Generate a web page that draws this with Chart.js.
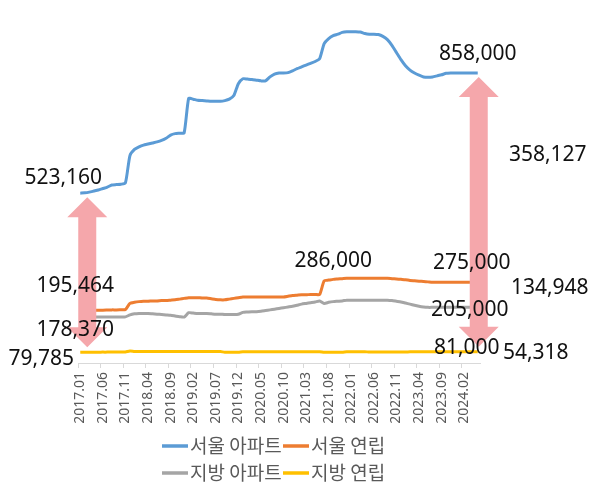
<!DOCTYPE html>
<html>
<head>
<meta charset="utf-8">
<script src="https://cdn.jsdelivr.net/npm/chart.js@4.4.1/dist/chart.umd.min.js"></script>
<style>
  html, body { margin: 0; padding: 0; background: #fff; }
  #wrap { width: 601px; height: 500px; }
</style>
</head>
<body>
<div id="wrap"><canvas id="grafico"></canvas></div>
<script>
// 월별 데이터 (2017.01 ~ 2024.05)
const months = [
  '2017.01','2017.02','2017.03','2017.04','2017.05','2017.06','2017.07','2017.08','2017.09','2017.10','2017.11','2017.12',
  '2018.01','2018.02','2018.03','2018.04','2018.05','2018.06','2018.07','2018.08','2018.09','2018.10','2018.11','2018.12',
  '2019.01','2019.02','2019.03','2019.04','2019.05','2019.06','2019.07','2019.08','2019.09','2019.10','2019.11','2019.12',
  '2020.01','2020.02','2020.03','2020.04','2020.05','2020.06','2020.07','2020.08','2020.09','2020.10','2020.11','2020.12',
  '2021.01','2021.02','2021.03','2021.04','2021.05','2021.06','2021.07','2021.08','2021.09','2021.10','2021.11','2021.12',
  '2022.01','2022.02','2022.03','2022.04','2022.05','2022.06','2022.07','2022.08','2022.09','2022.10','2022.11','2022.12',
  '2023.01','2023.02','2023.03','2023.04','2023.05','2023.06','2023.07','2023.08','2023.09','2023.10','2023.11','2023.12',
  '2024.01','2024.02','2024.03','2024.04','2024.05'
];

const seoulApt = [
  523160, 524000, 526000, 529000, 532000, 536000, 540000, 546000, 547000, 548000, 552000, 628000,
  645000, 652000, 657000, 660000, 663000, 666000, 670000, 676000, 685000, 689000, 690000, 691000,
  787000, 785000, 782000, 781000, 780000, 779000, 779000, 779000, 781000, 785000, 795000, 828000,
  842000, 841000, 840000, 838000, 836000, 836000, 847000, 855000, 858000, 858000, 859000, 864000,
  870000, 875000, 880000, 885000, 890000, 898000, 940000, 954000, 962000, 966000, 971000, 973000,
  973000, 973000, 972000, 968000, 966000, 966000, 965000, 960000, 951000, 935000, 915000, 895000,
  878000, 866000, 858000, 852000, 847000, 846000, 847000, 850000, 853000, 857000, 858000, 858000,
  858000, 858000, 858000, 858000, 858000
];

const seoulVilla = [
  195464, 196000, 196000, 197000, 197000, 197000, 197500, 198000, 198000, 198500, 199000, 216000,
  219000, 221000, 222000, 222000, 223000, 223000, 224000, 224000, 225000, 226000, 228000, 230000,
  232000, 232000, 232000, 231000, 231000, 229000, 227000, 226000, 226000, 228000, 230000, 232000,
  234000, 234000, 234000, 234000, 234000, 234000, 234000, 234000, 234000, 234000, 236000, 238000,
  239000, 240000, 240000, 241000, 241000, 241000, 279000, 281000, 283000, 284000, 285000, 286000,
  286000, 286000, 286000, 286000, 286000, 286000, 286000, 286000, 286000, 285000, 284000, 283000,
  282000, 280000, 279000, 278000, 277000, 276000, 275000, 275000, 275000, 275000, 275000, 275000,
  275000, 275000, 275000, 275000, 275000
];

const localApt = [
  178370, 178000, 178000, 178000, 178000, 178000, 178000, 178000, 178000, 178000, 178500, 184000,
  187000, 188000, 188000, 188000, 187000, 186000, 185000, 184000, 183000, 181000, 179000, 178000,
  190000, 189000, 188000, 188000, 188000, 187000, 186000, 186000, 185000, 185000, 185000, 186000,
  191000, 192000, 193000, 193000, 194000, 196000, 198000, 200000, 202000, 204000, 206000, 208000,
  211000, 214000, 216000, 218000, 220000, 223000, 216000, 219000, 221000, 222000, 223000, 225000,
  225000, 225000, 225000, 225000, 225000, 225000, 225000, 225000, 225000, 224000, 222000, 220000,
  217000, 214000, 211000, 208000, 206000, 205000, 205000, 205000, 205000, 205000, 205000, 205000,
  205000, 205000, 205000, 205000, 205000
];

const localVilla = [
  79785, 80000, 80000, 80000, 80200, 80300, 80300, 80500, 80500, 80500, 80600, 83500,
  82000, 82000, 82000, 82000, 82000, 82000, 82000, 82000, 82000, 82000, 82000, 82000,
  82000, 82000, 82000, 82000, 82000, 82000, 82000, 82000, 80000, 80000, 80000, 80000,
  81500, 81500, 81500, 81500, 81500, 81500, 81500, 81500, 81500, 81500, 81500, 81500,
  81500, 81500, 81500, 81500, 81500, 81500, 80000, 80000, 80000, 80000, 80000, 81500,
  81500, 81500, 81500, 81500, 80500, 80500, 80500, 80500, 80500, 80500, 80500, 80500,
  80500, 81000, 81000, 81000, 81000, 81000, 81000, 81000, 81000, 81000, 81000, 81000,
  81000, 81000, 81000, 81000, 81000
];

const seriesNames = ['서울 아파트', '서울 연립', '지방 아파트', '지방 연립'];
const seriesColors = ['#5B9BD5', '#ED7D31', '#A5A5A5', '#FFC000'];

// 주석 텍스트: [텍스트, 기준 시리즈, 기준 인덱스, dx, dy]
const callouts = [
  ['523,160', seoulApt, 0, -17, -15],
  ['858,000', seoulApt, 88, 0, -19],
  ['358,127', seoulApt, 88, 70, 82],
  ['195,464', seoulVilla, 0, -5, -25],
  ['178,370', localApt, 0, -5, 13],
  ['79,785', localVilla, 0, -39, 7],
  ['286,000', seoulVilla, 58, -9, -18],
  ['275,000', seoulVilla, 88, -6, -19],
  ['134,948', seoulVilla, 88, 72, 6],
  ['205,000', localApt, 88, -8, 3],
  ['81,000', localVilla, 88, -11, -4],
  ['54,318', localVilla, 88, 58, 1]
];

// 양방향 화살표: [인덱스, dx]
const arrows = [[0, 7], [88, 1]];

function drawDoubleArrow(ctx, cx, top, bottom) {
  const shaft = 9, head = 20, headLen = 20;
  ctx.beginPath();
  ctx.moveTo(cx, top);
  ctx.lineTo(cx + head, top + headLen);
  ctx.lineTo(cx + shaft, top + headLen);
  ctx.lineTo(cx + shaft, bottom - headLen);
  ctx.lineTo(cx + head, bottom - headLen);
  ctx.lineTo(cx, bottom);
  ctx.lineTo(cx - head, bottom - headLen);
  ctx.lineTo(cx - shaft, bottom - headLen);
  ctx.lineTo(cx - shaft, top + headLen);
  ctx.lineTo(cx - head, top + headLen);
  ctx.closePath();
  ctx.fill();
}

const annotations = {
  id: 'annotations',
  afterDatasetsDraw(chart) {
    const { ctx, scales: { x, y } } = chart;
    ctx.save();
    ctx.fillStyle = '#F5A7AB';
    arrows.forEach(([i, dx]) => {
      drawDoubleArrow(ctx, x.getPixelForValue(i) + dx,
        y.getPixelForValue(seoulApt[i]) + 4, y.getPixelForValue(localVilla[i]) - 5);
    });
    ctx.fillStyle = '#111';
    ctx.font = '21px "Noto Sans"';
    ctx.textAlign = 'center';
    ctx.textBaseline = 'middle';
    callouts.forEach(([txt, arr, i, dx, dy]) => {
      ctx.fillText(txt, x.getPixelForValue(i) + dx, y.getPixelForValue(arr[i]) + dy);
    });
    ctx.restore();
  },
  afterDraw(chart) {
    // 범례 (2줄)
    const { ctx } = chart;
    ctx.save();
    ctx.font = '19px "Noto Sans CJK KR"';
    ctx.textBaseline = 'middle';
    ctx.textAlign = 'left';
    const cols = [162, 283], rows = [446, 473];
    seriesNames.forEach((name, k) => {
      const lx = cols[k % 2], ly = rows[Math.floor(k / 2)];
      ctx.strokeStyle = seriesColors[k];
      ctx.lineWidth = 3.5;
      ctx.beginPath();
      ctx.moveTo(lx, ly);
      ctx.lineTo(lx + 26, ly);
      ctx.stroke();
      ctx.fillStyle = '#595959';
      ctx.fillText(name, lx + 28, ly);
    });
    ctx.restore();
  }
};

const allSeries = [seoulApt, seoulVilla, localApt, localVilla];

const chart = new Chart(document.getElementById('grafico'), {
  type: 'line',
  data: {
    labels: months,
    datasets: allSeries.map((d, k) => ({
      label: seriesNames[k],
      data: d,
      borderColor: seriesColors[k],
      backgroundColor: seriesColors[k],
      borderWidth: 3,
      pointRadius: 0,
      pointHoverRadius: 0,
      tension: 0.2
    }))
  },
  options: {
    responsive: true,
    maintainAspectRatio: false,
    animation: false,
    layout: { padding: { left: 78, right: 121, top: 22, bottom: 72 } },
    plugins: { legend: { display: false }, tooltip: { enabled: false } },
    scales: {
      x: {
        offset: true,
        afterFit: s => { s.height = 65; },
        grid: {
          offset: true,
          drawOnChartArea: false,
          tickLength: 5,
          color: c => (c.index !== undefined && c.index % 5 === 0) ? '#D9D9D9' : 'rgba(0,0,0,0)'
        },
        border: { color: '#D9D9D9' },
        ticks: {
          autoSkip: false,
          minRotation: 90,
          maxRotation: 90,
          padding: 4,
          color: '#595959',
          font: { family: 'Noto Sans', size: 14 },
          callback: (v, i) => i % 5 === 0 ? months[i] : ''
        }
      },
      y: { display: false, min: 50000, max: 1000000 }
    }
  },
  plugins: [annotations]
});
</script>
</body>
</html>
